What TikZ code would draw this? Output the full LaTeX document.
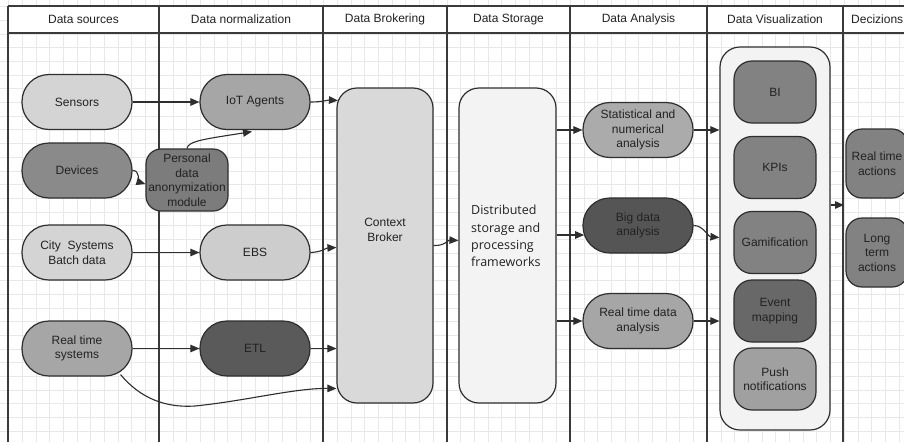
\documentclass[tikz,border=0pt]{standalone}
\usepackage{fontspec}
\setmainfont{Liberation Sans}
\newfontfamily\osfont{Open Sans}
\usetikzlibrary{arrows.meta,calc}
\definecolor{bord}{HTML}{2E2E2E}
\definecolor{lane}{HTML}{3A3A3A}
\definecolor{gridc}{HTML}{E8E8E8}
\definecolor{txt}{HTML}{222222}
\definecolor{cA}{HTML}{D4D4D4}
\definecolor{cB}{HTML}{A6A6A6}
\definecolor{cC}{HTML}{8A8A8A}
\definecolor{cD}{HTML}{7C7C7C}
\definecolor{cE}{HTML}{CDCDCD}
\definecolor{cF}{HTML}{5A5A5A}
\definecolor{cG}{HTML}{D9D9D9}
\definecolor{cH}{HTML}{F3F3F3}
\definecolor{cI}{HTML}{ABABAB}
\definecolor{cJ}{HTML}{555555}
\definecolor{cK}{HTML}{828282}
\definecolor{cL}{HTML}{686868}
\definecolor{cM}{HTML}{A0A0A0}
\newcommand\ndfont{\fontsize{12}{14.5}\selectfont}
\tikzset{
  pill/.style={draw=bord,line width=1.2pt,minimum width=110pt,minimum height=55pt,
    rounded corners=27pt,inner sep=0pt,align=center,font=\ndfont,text=txt},
  soft/.style={draw=bord,line width=1.2pt,minimum width=82pt,minimum height=62pt,
    rounded corners=18pt,inner sep=0pt,align=center,font=\ndfont,text=txt},
  tall/.style={draw=bord,line width=1.2pt,minimum width=96pt,minimum height=315pt,
    rounded corners=20pt,inner sep=0pt},
  arr/.style={draw=bord,line width=1.1pt,-{Triangle[length=9pt,width=7.5pt]}},
  lanel/.style={draw=lane,line width=1.4pt},
  hdr/.style={font=\fontsize{12}{14}\selectfont,text=txt,inner sep=0pt},
  gl/.style={draw=gridc,line width=0.7pt}
}
\begin{document}
\begin{tikzpicture}[x=1pt,y=-1pt]
\useasboundingbox (0,0) rectangle (904,442);
\fill[white] (0,0) rectangle (904,442);
% grid
\foreach \i in {0,...,67} \draw[gl] ({-5.2+13.7*\i},0) -- ({-5.2+13.7*\i},442);
\foreach \j in {0,...,33} \draw[gl] (0,{-7.2+13.7*\j}) -- (904,{-7.2+13.7*\j});
% header
\fill[white] (8,6) rectangle (904,33);
\draw[lanel] (8,6) -- (904,6);
\draw[lanel] (8,33) -- (904,33);
\foreach \x in {8,159,323,447,570,707,843} \draw[lanel] (\x,6) -- (\x,442);
\node[hdr] (h1) at (83.5,19.5) {Data sources};
\node[hdr] (h2) at (241,19.5) {Data normalization};
\node[hdr] (h3) at (385,19.5) {Data Brokering};
\node[hdr] (h4) at (508.5,19.5) {Data Storage};
\node[hdr] (h5) at (638.5,19.5) {Data Analysis};
\node[hdr] (h6) at (775,19.5) {Data Visualization};
\node[hdr,anchor=west] (h7) at (851,19.5) {Decizions};
% column 1
\node[pill,fill=cA] (sens) at (77,102) {Sensors};
\node[pill,fill=cC] (dev) at (77,170.5) {Devices};
\node[pill,fill=cA] (city) at (77,252.5) {City\ \ Systems\\Batch data};
\node[pill,fill=cB] (rts) at (77,348.5) {Real time\\systems};
% column 2
\node[pill,fill=cB] (iot) at (255,102) {IoT Agents};
\node[soft,fill=cD,rounded corners=15pt] (pers) at (187,180) {Personal\\data\\anonymization\\module};
\node[pill,fill=cE] (ebs) at (255,252.5) {EBS};
\node[pill,fill=cF] (etl) at (255,348.5) {ETL};
% column 3/4
\node[tall,fill=cG] (cb) at (385,245.5) {};
\node[font=\ndfont,text=txt,align=center,inner sep=0pt] (cbt) at (385,230) {Context\\Broker};
\node[tall,fill=cH,minimum width=97pt] (st) at (507.5,245.5) {};
\node[font=\osfont\fontsize{12.5}{17.3}\selectfont,text=txt,align=left,anchor=west,inner sep=0pt] (stt) at (471,236) {Distributed\\storage and\\processing\\frameworks};
% column 5
\node[pill,fill=cI] (stat) at (638,130) {Statistical and\\numerical\\analysis};
\node[pill,fill=cJ] (big) at (638,225.5) {Big data\\analysis};
\node[pill,fill=cB] (rta) at (638,321) {Real time data\\analysis};
% column 6
\node[draw=bord,line width=1.2pt,fill=cH,rounded corners=20pt,minimum width=110pt,minimum height=383pt,inner sep=0pt] (vis) at (775,238.5) {};
\node[soft,fill=cK] (bi) at (775,92) {BI};
\node[soft,fill=cK] (kpi) at (775,167.5) {KPIs};
\node[soft,fill=cK] (gam) at (775,242.5) {Gamification};
\node[soft,fill=cL] (evm) at (775,311) {Event\\mapping};
\node[soft,fill=cM] (push) at (775,379) {Push\\notifications};
% column 7
\node[soft,fill=cK,minimum width=62pt,minimum height=69pt,rounded corners=16pt] (rtact) at (877,163.5) {Real time\\actions};
\node[soft,fill=cK,minimum width=62pt,minimum height=69pt,rounded corners=16pt] (ltact) at (877,252.5) {Long\\term\\actions};
\coordinate (dec) at (844,205);
\coordinate (bigin) at ($(big.west)+(1.8,9.5)$);
% connectors
\draw[arr] (sens.east) -- (iot.west);
\draw[arr] (dev.east) .. controls (140,170) and (139,182) .. ($(pers.west)+(0,4)$);
\draw[arr] (pers.north) .. controls (188,141) and (205,139) .. ($(iot.south)+(-3,1.5)$);
\draw[arr] (city.east) -- (ebs.west);
\draw[arr] (rts.east) -- (etl.west);
\draw[arr] ($(rts.south east)+(-12,-2)$) .. controls (140,398) and (165,408) .. (195,406) .. controls (245,401) and (295,388) .. ($(cb.west)+(0,143)$);
\draw[arr] (iot.east) .. controls (322,102) and (328,100) .. ($(cb.west)+(1.5,-145)$);
\draw[arr] (ebs.east) .. controls (322,252) and (326,248) .. ($(cb.west)+(0,2)$);
\draw[arr] (etl.east) -- (etl.east -| cb.west);
\draw[arr] (cb.east) .. controls (445,246) and (448,240) .. ($(st.west)+(0,-5)$);
\draw[arr] (st.east |- stat.west) -- (stat.west);
\draw[arr] (st.east |- bigin) -- (bigin);
\draw[arr] (st.east |- rta.west) -- (rta.west);
\draw[arr] (stat.east) -- (stat.east -| vis.west);
\draw[arr] (big.east) .. controls ($(big.east)+(10,0)$) and ($(big.east)+(14,11)$) .. ($(big.east -| vis.west)+(0,12)$);
\draw[arr] (rta.east) -- (rta.east -| vis.west);
\draw[arr] (vis.east |- dec) -- (dec);
\end{tikzpicture}
\end{document}
